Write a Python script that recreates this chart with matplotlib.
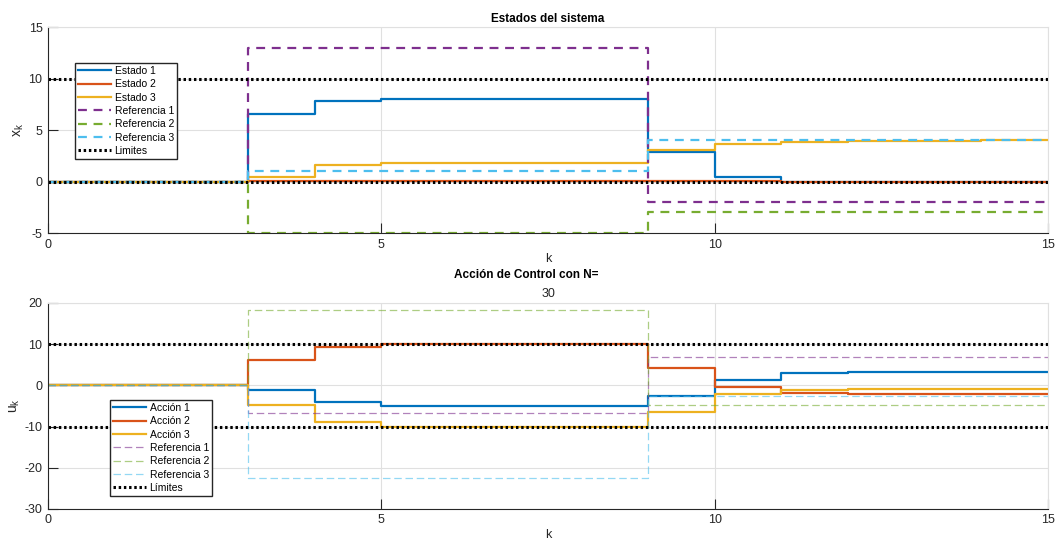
import numpy as np
import matplotlib.pyplot as plt

plt.rcParams['font.family'] = ['Liberation Sans', 'DejaVu Sans']
plt.rcParams['axes.unicode_minus'] = False

k = np.arange(0, 16)

# estados
estado1 = [0, 0, 0, 6.6, 7.87, 7.97, 8.0, 8.0, 8.0, 2.88, 0.4, 0, 0, 0, 0, 0]
estado2 = [0, 0, 0, 0.02, 0.03, 0.03, 0.03, 0.03, 0.03, 0.02, 0.01, 0, 0, 0, 0, 0]
estado3 = [0, 0, 0, 0.42, 1.58, 1.84, 1.85, 1.85, 1.85, 3.04, 3.6, 3.8, 3.92, 3.98, 4.0, 4.0]
ref_x1 = [0, 0, 0, 13, 13, 13, 13, 13, 13, -2, -2, -2, -2, -2, -2, -2]
ref_x2 = [0, 0, 0, -5, -5, -5, -5, -5, -5, -3, -3, -3, -3, -3, -3, -3]
ref_x3 = [0, 0, 0, 1, 1, 1, 1, 1, 1, 4, 4, 4, 4, 4, 4, 4]
lim_x = [10, 0]

# acciones de control
accion1 = [0, 0, 0, -1.15, -4.15, -4.9, -5.1, -5.1, -5.1, -2.7, 1.3, 3.0, 3.25, 3.3, 3.3, 3.3]
accion2 = [0, 0, 0, 6.2, 9.4, 10, 10, 10, 10, 4.2, -0.5, -1.8, -2.1, -2.1, -2.1, -2.1]
accion3 = [0, 0, 0, -4.7, -9.0, -10, -10, -10, -10, -6.4, -2.0, -1.15, -1.0, -1.0, -1.0, -1.0]
ref_u1 = [0, 0, 0, -6.8, -6.8, -6.8, -6.8, -6.8, -6.8, 7, 7, 7, 7, 7, 7, 7]
ref_u2 = [0, 0, 0, 18.2, 18.2, 18.2, 18.2, 18.2, 18.2, -4.7, -4.7, -4.7, -4.7, -4.7, -4.7, -4.7]
ref_u3 = [0, 0, 0, -22.4, -22.4, -22.4, -22.4, -22.4, -22.4, -2.6, -2.6, -2.6, -2.6, -2.6, -2.6, -2.6]
lim_u = [10, -10]
N = 30

azul = (0, 0.447, 0.741)
naranja = (0.85, 0.325, 0.098)
amarillo = (0.929, 0.694, 0.125)
morado = (0.494, 0.184, 0.556)
verde = (0.466, 0.674, 0.188)
cian = (0.301, 0.745, 0.933)
gris = (0.15, 0.15, 0.15)
rejilla = (0.88, 0.88, 0.88)


def estilo(ax, yt):
    ax.set_xlim(0, 15)
    ax.set_xticks([0, 5, 10, 15])
    ax.set_yticks(yt)
    ax.set_ylim(yt[0], yt[-1])
    ax.grid(True, color=rejilla, linewidth=0.8)
    ax.set_axisbelow(True)
    ax.tick_params(direction='in', length=7, width=0.8, labelsize=9, colors=gris,
                   top=False, right=False, pad=4)
    for s in ['left', 'bottom']:
        ax.spines[s].set_color(gris)
        ax.spines[s].set_linewidth(0.8)
    for s in ['top', 'right']:
        ax.spines[s].set_color(rejilla)
        ax.spines[s].set_linewidth(0.8)
    ax.set_xlabel('k', fontsize=9, labelpad=2, color=gris)


fig = plt.figure(figsize=(10.55, 5.42), dpi=100)
ax1 = fig.add_axes([0.0455, 0.570, 0.948, 0.380])
ax2 = fig.add_axes([0.0455, 0.061, 0.948, 0.380])

# subplot de estados
ax1.step(k, estado1, where='post', color=azul, lw=1.6, label='Estado 1')
ax1.step(k, estado2, where='post', color=naranja, lw=1.6, label='Estado 2')
ax1.step(k, estado3, where='post', color=amarillo, lw=1.6, label='Estado 3')
ax1.step(k, ref_x1, where='post', color=morado, lw=1.6, ls=(0, (4, 3)), label='Referencia 1')
ax1.step(k, ref_x2, where='post', color=verde, lw=1.6, ls=(0, (4, 3)), label='Referencia 2')
ax1.step(k, ref_x3, where='post', color=cian, lw=1.6, ls=(0, (4, 3)), label='Referencia 3')
for i, v in enumerate(lim_x):
    ax1.plot([0, 15], [v, v], color='black', lw=2.2, ls=(0, (0.8, 0.9)),
             label='Limites' if i == 0 else None)
estilo(ax1, [-5, 0, 5, 10, 15])
ax1.set_ylabel('$\\mathregular{x_k}$', fontsize=10, labelpad=2, color=gris)
ax1.set_title('Estados del sistema', fontsize=8.5, fontweight='bold', pad=4)
ax1.legend(loc='upper left', bbox_to_anchor=(0.0711, 0.884), bbox_transform=fig.transFigure,
           fontsize=7.5, handlelength=3.2, labelspacing=0.32, handletextpad=0.3,
           borderpad=0.3, fancybox=False, edgecolor=gris, framealpha=1,
           borderaxespad=0)

# subplot de acciones
ax2.step(k, accion1, where='post', color=azul, lw=1.6, label='Acción 1')
ax2.step(k, accion2, where='post', color=naranja, lw=1.6, label='Acción 2')
ax2.step(k, accion3, where='post', color=amarillo, lw=1.6, label='Acción 3')
ax2.step(k, ref_u1, where='post', color=morado, lw=0.9, alpha=0.6, ls=(0, (6, 3)), label='Referencia 1')
ax2.step(k, ref_u2, where='post', color=verde, lw=0.9, alpha=0.6, ls=(0, (6, 3)), label='Referencia 2')
ax2.step(k, ref_u3, where='post', color=cian, lw=0.9, alpha=0.6, ls=(0, (6, 3)), label='Referencia 3')
for i, v in enumerate(lim_u):
    ax2.plot([0, 15], [v, v], color='black', lw=2.2, ls=(0, (0.8, 0.9)),
             label='Límites' if i == 0 else None)
estilo(ax2, [-30, -20, -10, 0, 10, 20])
ax2.set_ylabel('$\\mathregular{u_k}$', fontsize=10, labelpad=2, color=gris)
ax2.set_title(str(N), fontsize=9, pad=4, color=gris)
fig.text(0.4985, 1 - 275 / 542, 'Acción de Control con N=', fontsize=8.5, fontweight='bold',
         ha='center', va='center')
ax2.legend(loc='upper left', bbox_to_anchor=(0.1043, 0.262), bbox_transform=fig.transFigure,
           fontsize=7.5, handlelength=3.2, labelspacing=0.32, handletextpad=0.3,
           borderpad=0.3, fancybox=False, edgecolor=gris, framealpha=1,
           borderaxespad=0)

fig.savefig('out.png', dpi=100, facecolor='white')
